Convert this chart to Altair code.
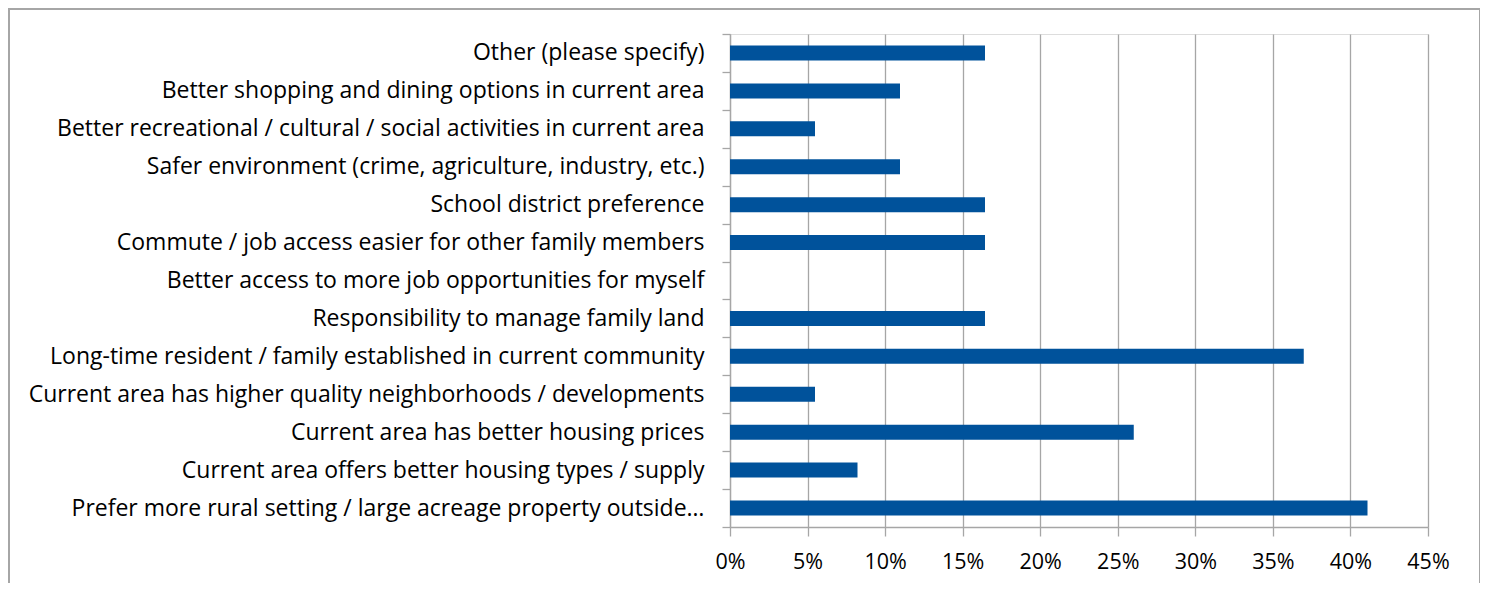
import altair as alt
import pandas as pd

categories = [
    "Other (please specify)",
    "Better shopping and dining options in current area",
    "Better recreational / cultural / social activities in current area",
    "Safer environment (crime, agriculture, industry, etc.)",
    "School district preference",
    "Commute / job access easier for other family members",
    "Better access to more job opportunities for myself",
    "Responsibility to manage family land",
    "Long-time resident / family established in current community",
    "Current area has higher quality neighborhoods / developments",
    "Current area has better housing prices",
    "Current area offers better housing types / supply",
    "Prefer more rural setting / large acreage property outside\u2026",
]
shares = [0.1644, 0.1096, 0.0548, 0.1096, 0.1644, 0.1644, 0.0, 0.1644,
          0.3699, 0.0548, 0.2603, 0.0822, 0.4110]
x_ticks = [0, 0.05, 0.10, 0.15, 0.20, 0.25, 0.30, 0.35, 0.40, 0.45]

df = pd.DataFrame({"cat": categories, "share": shares})

FONT = "Open Sans"
W, H = 698, 493

bars = alt.Chart(df).mark_bar(size=15, color="#00529b").encode(
    x=alt.X("share:Q",
            scale=alt.Scale(domain=[0, 0.45], nice=False),
            axis=alt.Axis(values=x_ticks, format=".0%", title=None,
                          grid=True, gridColor="#a6a6a6", gridWidth=1.3,
                          domainColor="#a6a6a6", domainWidth=1.3,
                          tickColor="#a6a6a6", tickWidth=1.3, tickSize=9,
                          labelFontSize=21.5, labelFont=FONT, labelColor="#000000",
                          labelFlush=False, labelOverlap=False,
                          labelPadding=15)),
    y=alt.Y("cat:N", sort=categories,
            scale=alt.Scale(paddingInner=0, paddingOuter=0),
            axis=alt.Axis(title=None, tickBand="extent", grid=False,
                          domainColor="#a6a6a6", domainWidth=1.3,
                          tickColor="#a6a6a6", tickWidth=1.3, tickSize=8,
                          labelFontSize=23, labelFont=FONT, labelColor="#000000",
                          labelPadding=18, labelLimit=800)),
)

frame = alt.Chart(pd.DataFrame({"a": [0]})).mark_rect(
    fill=None, stroke="#a6a6a6", strokeWidth=2, clip=False
).encode(
    x=alt.value(-721), x2=alt.value(750),
    y=alt.value(-25), y2=alt.value(600),
)

chart = alt.layer(frame, bars).properties(
    width=W, height=H,
    autosize=alt.AutoSizeParams(type="none"),
    padding={"left": 722, "top": 26, "right": 52, "bottom": 56},
).configure_view(stroke=None).configure(background="white")

chart.save("out.html", embed_options={"renderer": "svg", "actions": False})
